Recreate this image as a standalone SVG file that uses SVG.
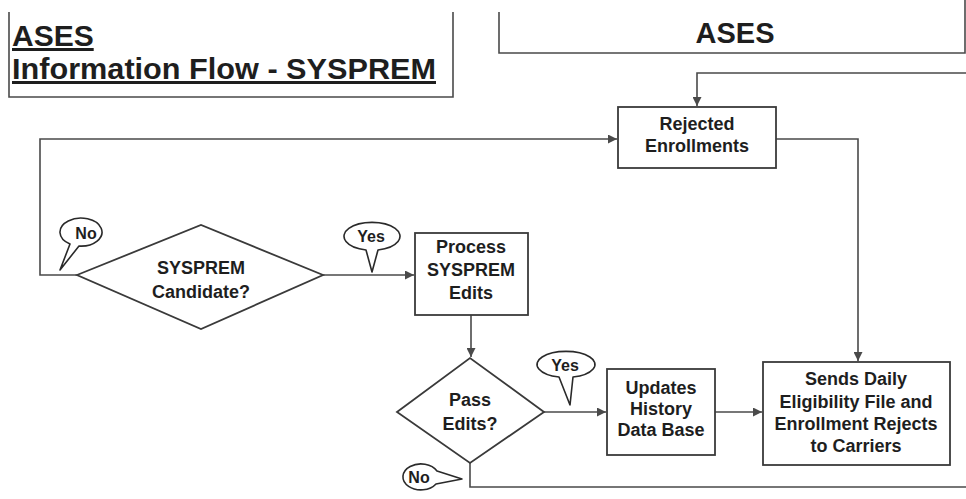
<svg xmlns="http://www.w3.org/2000/svg" width="966" height="499" viewBox="0 0 966 499">
<defs>
<style>
.ln{fill:none;stroke:#4a4a4a;stroke-width:1.6}
.bx{fill:#fff;stroke:#3a3a3a;stroke-width:1.8}
.bub{fill:#fff;stroke:#2a2a2a;stroke-width:1.6;stroke-linejoin:round}
.t{font-family:"Liberation Sans",Arial,sans-serif;font-weight:bold;font-size:18px;fill:#1e1e1e;text-anchor:middle}
.bt{font-family:"Liberation Sans",Arial,sans-serif;font-weight:bold;font-size:16px;fill:#1e1e1e;text-anchor:middle}
.ttl{font-family:"Liberation Sans",Arial,sans-serif;font-weight:bold;font-size:30px;fill:#1e1e1e;text-decoration:underline}
</style>
<marker id="ah" viewBox="0 0 10 10" refX="10" refY="5" markerWidth="9" markerHeight="9" markerUnits="userSpaceOnUse" orient="auto">
<path d="M0,0 L10,5 L0,10 z" fill="#4a4a4a"/>
</marker>
</defs>
<rect width="966" height="499" fill="#fff"/>

<g id="title">
<path class="ln" d="M9 12 V97 H453 V12"/>
<text class="ttl" x="12" y="46">ASES</text>
<text class="ttl" x="12" y="79" textLength="424" lengthAdjust="spacingAndGlyphs">Information Flow - SYSPREM</text>
</g>

<g id="header">
<path class="ln" d="M499 12 V53 H965 V0"/>
<text class="t" x="735" y="43" style="font-size:29px">ASES</text>
</g>

<g id="connectors">
<path class="ln" d="M966 73 H697 V106" marker-end="url(#ah)"/>
<path class="ln" d="M77 275 H40 V139 H617" marker-end="url(#ah)"/>
<path class="ln" d="M776 139 H858 V361" marker-end="url(#ah)"/>
<path class="ln" d="M323 275 H414" marker-end="url(#ah)"/>
<path class="ln" d="M471 315 V357" marker-end="url(#ah)"/>
<path class="ln" d="M544 412 H606" marker-end="url(#ah)"/>
<path class="ln" d="M715 412 H762" marker-end="url(#ah)"/>
<path class="ln" d="M470 463 V487 H966"/>
</g>

<g id="rejected">
<rect class="bx" x="618" y="107" width="158" height="61"/>
<text class="t" x="697" y="130">Rejected</text>
<text class="t" x="697" y="152">Enrollments</text>
</g>

<g id="candidate">
<polygon class="bx" points="77,275 201,225 323,275 201,329"/>
<text class="t" x="201" y="274">SYSPREM</text>
<text class="t" x="201" y="298">Candidate?</text>
</g>

<g id="process">
<rect class="bx" x="415" y="233" width="113" height="82"/>
<text class="t" x="471" y="253">Process</text>
<text class="t" x="471" y="276">SYSPREM</text>
<text class="t" x="471" y="299">Edits</text>
</g>

<g id="pass">
<polygon class="bx" points="397,412 470,358 544,412 470,463"/>
<text class="t" x="470" y="406">Pass</text>
<text class="t" x="470" y="430">Edits?</text>
</g>

<g id="updates">
<rect class="bx" x="607" y="369" width="108" height="86"/>
<text class="t" x="661" y="394">Updates</text>
<text class="t" x="661" y="415">History</text>
<text class="t" x="661" y="436">Data Base</text>
</g>

<g id="sends">
<rect class="bx" x="763" y="362" width="187" height="103"/>
<text class="t" x="856" y="385">Sends Daily</text>
<text class="t" x="856" y="408">Eligibility File and</text>
<text class="t" x="856" y="430">Enrollment Rejects</text>
<text class="t" x="856" y="452">to Carriers</text>
</g>

<g id="no1">
<path class="bub" d="M70 244 A21 14 0 1 1 79 246 L60 270 Z"/>
<text class="bt" x="86" y="239">No</text>
</g>

<g id="yes1">
<path class="bub" d="M366 250 A28 14 0 1 1 378 250 L372 272 Z"/>
<text class="bt" x="371" y="242">Yes</text>
</g>

<g id="yes2">
<path class="bub" d="M559 377 A29 13 0 1 1 573 377 L570 405 Z"/>
<text class="bt" x="565" y="371">Yes</text>
</g>

<g id="no2">
<path class="bub" d="M436 484 A18 13 0 1 1 437 471 L462 479 Z"/>
<text class="bt" x="419" y="483">No</text>
</g>
</svg>
